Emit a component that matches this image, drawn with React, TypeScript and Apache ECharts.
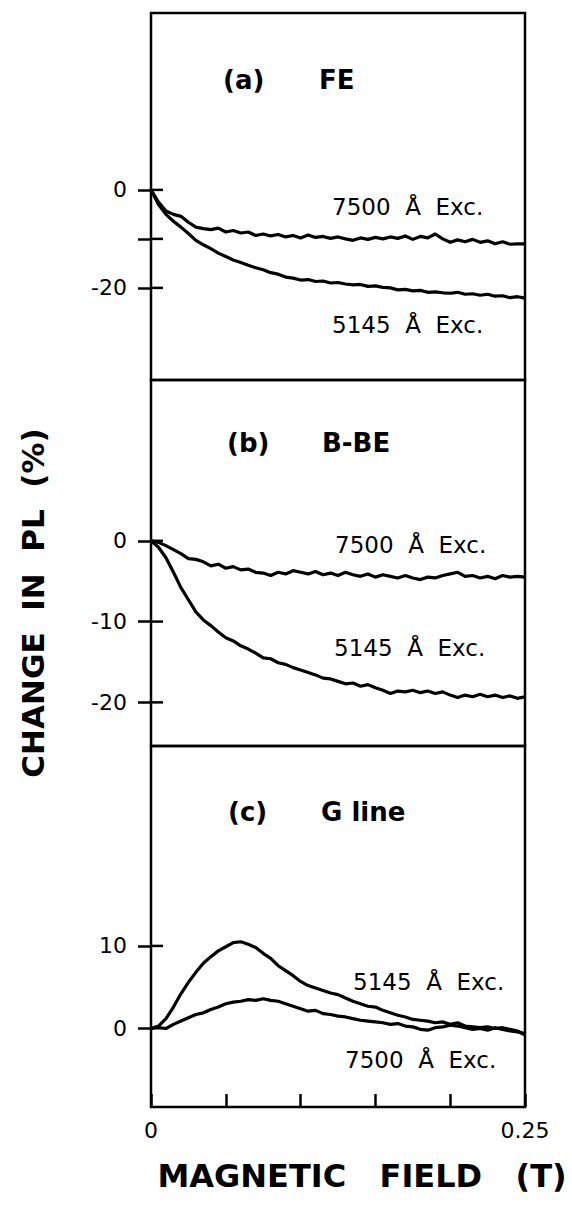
import React, { useEffect, useRef } from "react";
import * as echarts from "echarts";

// Magnetic field sampling (T), every 5 mT from 0 to 0.25 T
const FIELD_T: number[] = Array.from({ length: 51 }, (_, i) => +(i * 0.005).toFixed(3));

// (a) FE — change in PL (%)
const FE_7500 = [
  0, -2.5, -4.3, -5.0, -5.4, -6.6, -7.6, -7.9, -8.1, -7.8,
  -8.6, -8.3, -8.8, -8.6, -9.3, -9.0, -9.4, -9.1, -9.6, -9.3,
  -9.8, -9.2, -9.7, -9.5, -9.9, -9.6, -10.0, -10.3, -9.8, -10.1,
  -9.7, -10.0, -9.6, -9.9, -9.4, -10.1, -9.5, -9.8, -9.0, -10.0,
  -10.7, -10.2, -10.6, -10.1, -10.7, -10.4, -11.0, -10.6, -11.1, -11.0,
  -11.0,
];
const FE_5145 = [
  0, -3.0, -5.0, -6.4, -7.6, -8.9, -10.3, -11.2, -12.0, -12.9,
  -13.6, -14.3, -14.8, -15.4, -15.9, -16.3, -16.9, -17.2, -17.8, -18.0,
  -18.4, -18.3, -18.7, -18.6, -19.0, -18.9, -19.2, -19.4, -19.3, -19.7,
  -19.6, -19.9, -20.0, -20.4, -20.3, -20.6, -20.5, -20.9, -20.8, -21.0,
  -21.1, -20.9, -21.3, -21.2, -21.5, -21.3, -21.7, -21.6, -22.0, -21.8,
  -22.1,
];

// (b) B-BE
const BBE_7500 = [
  0, -0.2, -0.6, -1.1, -1.6, -2.2, -2.3, -2.6, -3.1, -2.9,
  -3.4, -3.2, -3.6, -3.5, -3.9, -4.0, -4.3, -3.9, -4.1, -3.7,
  -3.9, -4.1, -3.8, -4.2, -4.0, -4.3, -3.9, -4.2, -4.4, -4.1,
  -4.5, -4.2, -4.4, -4.6, -4.3, -4.6, -4.8, -4.5, -4.6, -4.3,
  -4.1, -3.9, -4.4, -4.3, -4.6, -4.4, -4.7, -4.3, -4.5, -4.4,
  -4.5,
];
const BBE_5145 = [
  0, -0.8, -2.1, -3.9, -5.8, -7.3, -8.8, -9.8, -10.5, -11.3,
  -12.0, -12.4, -13.0, -13.4, -13.9, -14.5, -14.6, -15.1, -15.3, -15.7,
  -16.0, -16.3, -16.6, -17.0, -17.1, -17.4, -17.7, -17.6, -18.0, -17.8,
  -18.2, -18.5, -18.9, -18.6, -18.7, -18.5, -18.8, -18.6, -18.9, -18.7,
  -19.1, -19.4, -19.1, -19.3, -19.0, -19.3, -19.1, -19.4, -19.2, -19.5,
  -19.3,
];

// (c) G line
const G_5145 = [
  0, 0.3, 1.2, 2.6, 4.2, 5.6, 6.8, 7.9, 8.7, 9.4,
  9.9, 10.4, 10.5, 10.2, 9.8, 9.1, 8.5, 7.6, 7.0, 6.4,
  5.7, 5.2, 4.9, 4.6, 4.3, 4.1, 3.7, 3.3, 3.0, 2.7,
  2.6, 2.2, 1.9, 1.6, 1.4, 1.1, 1.0, 0.9, 0.7, 0.8,
  0.5, 0.7, 0.3, 0.2, 0.1, 0.2, 0.0, 0.1, -0.1, -0.3,
  -0.8,
];
const G_7500 = [
  0, 0.1, 0.0, 0.5, 0.9, 1.3, 1.7, 1.9, 2.3, 2.6,
  3.0, 3.2, 3.3, 3.5, 3.4, 3.6, 3.4, 3.3, 3.0, 2.7,
  2.4, 2.1, 2.2, 1.8, 1.7, 1.5, 1.4, 1.2, 1.0, 0.9,
  0.8, 0.7, 0.5, 0.6, 0.3, 0.2, -0.1, -0.2, 0.1, 0.2,
  0.4, 0.3, 0.1, -0.1, 0.0, -0.2, 0.1, -0.1, -0.3, -0.4,
  -0.6,
];

// Vertical axis ticks (outer half), inner tick halves and labels per panel
const TICKS_A = [0, -10, -20];
const INNER_A = [0, -10, -20];
const LABELS_A = [0, -20];
const TICKS_B = [0, -10, -20];
const INNER_B = [0, -10, -20];
const LABELS_B = [0, -10, -20];
const TICKS_C = [0, 10];
const INNER_C = [10];
const LABELS_C = [0, 10];

const PANEL_TITLES = [
  ["(a)", "FE"],
  ["(b)", "B-BE"],
  ["(c)", "G line"],
];
const EXC_7500 = "7500  Å  Exc.";
const EXC_5145 = "5145  Å  Exc.";
const X_TITLE = "MAGNETIC   FIELD   (T)";
const Y_TITLE = "CHANGE  IN  PL  (%)";

const FONT = "DejaVu Sans";
const INK = "#000";

const pairs = (ys: number[]) => ys.map((v, i) => [FIELD_T[i], v]);

export default function App() {
  const ref = useRef<HTMLDivElement>(null);

  useEffect(() => {
    if (!ref.current) return;
    const chart = echarts.init(ref.current, null, { renderer: "svg" });

    const left = 151;
    const width = 374;
    const tickOut = 13;
    const tickIn = 12;

    const grids = [
      { top: 13, height: 367 },
      { top: 380, height: 366 },
      { top: 746, height: 361 },
    ];
    const ranges = [
      { min: -38.8, max: 36.1, ticks: TICKS_A, inner: INNER_A, labels: LABELS_A },
      { min: -25.4, max: 19.9, ticks: TICKS_B, inner: INNER_B, labels: LABELS_B },
      { min: -9.5, max: 34.2, ticks: TICKS_C, inner: INNER_C, labels: LABELS_C },
    ];

    const grid = grids.map((g) => ({
      left,
      width,
      top: g.top,
      height: g.height,
      show: true,
      borderColor: INK,
      borderWidth: 2.5,
      backgroundColor: "transparent",
    }));

    const xAxis = grids.map((_, i) => ({
      gridIndex: i,
      type: "value",
      position: "bottom",
      min: 0,
      max: 0.25,
      interval: 0.05,
      show: i === 2,
      axisLine: { show: false, onZero: false },
      splitLine: { show: false },
      axisTick: {
        show: i === 2,
        inside: true,
        length: 13,
        lineStyle: { color: INK, width: 2.5 },
      },
      axisLabel: {
        show: i === 2,
        margin: 12,
        fontSize: 22,
        fontFamily: FONT,
        color: INK,
        formatter: (v: number) => (v === 0 ? "0" : Math.abs(v - 0.25) < 1e-9 ? "0.25" : ""),
      },
    }));

    const yAxis = ranges.map((r, i) => ({
      gridIndex: i,
      type: "value",
      position: "left",
      min: r.min,
      max: r.max,
      axisLine: { show: false, onZero: false },
      splitLine: { show: false },
      axisTick: {
        show: true,
        inside: false,
        length: tickOut,
        customValues: r.ticks,
        lineStyle: { color: INK, width: 2.5 },
      },
      axisLabel: {
        show: true,
        customValues: r.labels,
        margin: 24,
        fontSize: 22,
        fontFamily: FONT,
        color: INK,
        formatter: (v: number) => String(v),
      },
    }));

    const curve = (name: string, data: number[], gi: number) => ({
      name,
      type: "line",
      xAxisIndex: gi,
      yAxisIndex: gi,
      data: pairs(data),
      showSymbol: false,
      symbol: "none",
      lineStyle: { color: INK, width: 3.2, join: "round" },
      silent: true,
    });

    const series = [
      curve("FE 7500", FE_7500, 0),
      curve("FE 5145", FE_5145, 0),
      curve("B-BE 7500", BBE_7500, 1),
      curve("B-BE 5145", BBE_5145, 1),
      curve("G 5145", G_5145, 2),
      curve("G 7500", G_7500, 2),
    ];

    const txt = (text: string, x: number, y: number, size: number, bold: boolean, align = "left") => ({
      type: "text",
      x,
      y,
      silent: true,
      style: {
        text,
        fill: INK,
        fontSize: size,
        fontWeight: bold ? "bold" : "normal",
        fontFamily: FONT,
        align,
        verticalAlign: "middle",
      },
    });

    const titleY = [80, 443, 812];
    const titleX = [
      [223, 319],
      [227, 322],
      [228, 321],
    ];

    const graphic: any[] = [];
    PANEL_TITLES.forEach((t, i) => {
      graphic.push(txt(t[0], titleX[i][0], titleY[i], 26, true));
      graphic.push(txt(t[1], titleX[i][1], titleY[i], 26, true));
    });
    graphic.push(txt(EXC_7500, 332, 207, 23, false));
    graphic.push(txt(EXC_5145, 332, 325, 23, false));
    graphic.push(txt(EXC_7500, 335, 545, 23, false));
    graphic.push(txt(EXC_5145, 334, 648, 23, false));
    graphic.push(txt(EXC_5145, 353, 982, 23, false));
    graphic.push(txt(EXC_7500, 345, 1060, 23, false));
    graphic.push(txt(X_TITLE, 362, 1176, 32, true, "center"));
    graphic.push({
      type: "text",
      x: 33,
      y: 603,
      rotation: Math.PI / 2,
      silent: true,
      style: {
        text: Y_TITLE,
        fill: INK,
        fontSize: 31,
        fontWeight: "bold",
        fontFamily: FONT,
        align: "center",
        verticalAlign: "middle",
      },
    });

    chart.setOption({
      animation: false,
      backgroundColor: "#fff",
      grid,
      xAxis,
      yAxis,
      series,
      graphic,
    });

    // Inner halves of the crossing y ticks, placed through each panel's scales
    const innerTicks: any[] = [];
    ranges.forEach((r, gi) => {
      r.inner.forEach((v) => {
        const p = chart.convertToPixel({ gridIndex: gi }, [0, v]) as number[];
        if (!p) return;
        innerTicks.push({
          type: "line",
          silent: true,
          z: 10,
          shape: { x1: p[0], y1: p[1], x2: p[0] + tickIn, y2: p[1] },
          style: { stroke: INK, lineWidth: 2.5 },
        });
      });
    });
    chart.setOption({ graphic: [...graphic, ...innerTicks] });

    return () => chart.dispose();
  }, []);

  return (
    <div
      ref={ref}
      style={{ position: "fixed", left: 0, top: 0, width: 572, height: 1205, background: "#fff" }}
    />
  );
}
